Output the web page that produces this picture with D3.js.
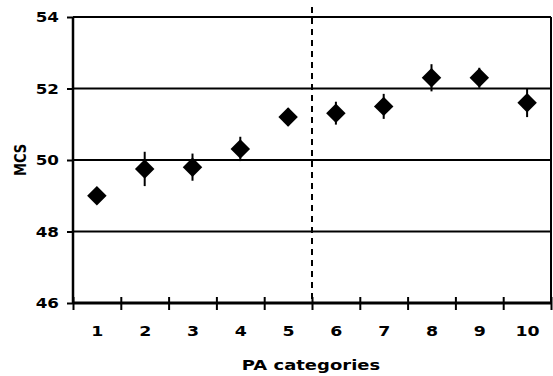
<!DOCTYPE html>
<html>
<head>
<meta charset="utf-8">
<script src="https://cdn.jsdelivr.net/npm/d3@7"></script>
<style>
html,body{margin:0;padding:0;background:#fff;}
svg{display:block;}
text{font-family:"DejaVu Sans",Verdana,sans-serif;font-weight:bold;fill:#000;}
</style>
</head>
<body>
<svg id="chart" width="553" height="376"></svg>
<script>
const categories = [1,2,3,4,5,6,7,8,9,10];
const means = [49.0, 49.75, 49.8, 50.31, 51.2, 51.31, 51.5, 52.3, 52.3, 51.6];
const errors = [0.2, 0.48, 0.38, 0.34, 0.25, 0.32, 0.35, 0.38, 0.28, 0.4];
const yTicks = [46, 48, 50, 52, 54];
const xLabel = "PA categories";
const yLabel = "MCS";
const dividerAfter = 5;

const svg = d3.select("#chart");
const L = 73, R = 551, T = 17, B = 303;
const SX = 1.24; // horizontal stretch of the original picture's text

const x = d3.scaleLinear().domain([0.5, 10.5]).range([L, R]);
const y = d3.scaleLinear().domain([46, 54]).range([B, T]);

// gridlines
svg.append("g").selectAll("line").data(yTicks.slice(1)).join("line")
  .attr("x1", L).attr("x2", R)
  .attr("y1", d => y(d)).attr("y2", d => y(d))
  .attr("stroke", "#000").attr("stroke-width", 2);

// right border
svg.append("line").attr("x1", R).attr("x2", R).attr("y1", T).attr("y2", B)
  .attr("stroke", "#000").attr("stroke-width", 2);

// dashed divider
svg.append("line")
  .attr("x1", x(dividerAfter + 0.5)).attr("x2", x(dividerAfter + 0.5))
  .attr("y1", 7).attr("y2", B)
  .attr("stroke", "#000").attr("stroke-width", 2)
  .attr("stroke-dasharray", "6,5");

// y axis
const yAxis = svg.append("g").attr("transform", `translate(${L},0)`)
  .call(d3.axisLeft(y).tickValues(yTicks).tickSize(6).tickPadding(0).tickFormat(d3.format("d")));
yAxis.select(".domain").attr("stroke-width", 2.5).attr("d", `M0,${T}V${B}`);
yAxis.selectAll(".tick line").attr("stroke-width", 2);
yAxis.selectAll("text").style("font-size", "13.5px")
  .attr("x", null).attr("dy", "0.36em")
  .attr("transform", `translate(-14,0) scale(${SX},1)`);

// x axis ticks at boundaries
const bounds = d3.range(0.5, 11, 1);
const xAxis = svg.append("g").attr("transform", `translate(0,${B})`)
  .call(d3.axisBottom(x).tickValues(bounds).tickSize(7).tickFormat(""));
xAxis.select(".domain").attr("stroke-width", 3).attr("d", `M${L},0H${R}`);
xAxis.selectAll(".tick line").attr("y1", -6).attr("y2", 7).attr("stroke-width", 2);

// x labels
const xLab = svg.append("g").attr("transform", `translate(0,${B})`)
  .call(d3.axisBottom(x).tickValues(categories).tickSize(0).tickPadding(0).tickFormat(d3.format("d")));
xLab.select(".domain").remove();
xLab.selectAll("text").style("font-size", "14px").attr("y", null).attr("dy", "0.36em")
  .attr("transform", `translate(0,28) scale(${SX},1)`);

// error bars
svg.append("g").selectAll("line").data(categories).join("line")
  .attr("x1", (d) => x(d)).attr("x2", (d) => x(d))
  .attr("y1", (d, i) => y(means[i] + errors[i]))
  .attr("y2", (d, i) => y(means[i] - errors[i]))
  .attr("stroke", "#000").attr("stroke-width", 2);

// markers
svg.append("g").selectAll("path").data(categories).join("path")
  .attr("d", d3.symbol(d3.symbolSquare, 190))
  .attr("transform", (d, i) => `translate(${x(d)},${y(means[i])}) rotate(45)`)
  .attr("fill", "#000");

// axis titles
svg.append("text").attr("transform", `translate(${(L + R) / 2 - 1},365) scale(${SX},1)`)
  .attr("dy", "0.36em").attr("text-anchor", "middle").style("font-size", "14.5px").text(xLabel);
svg.append("text").attr("transform", `translate(20,${(T + B) / 2}) rotate(-90) scale(1,${SX})`)
  .attr("dy", "0.36em").attr("text-anchor", "middle").style("font-size", "13px").text(yLabel);
</script>
</body>
</html>
